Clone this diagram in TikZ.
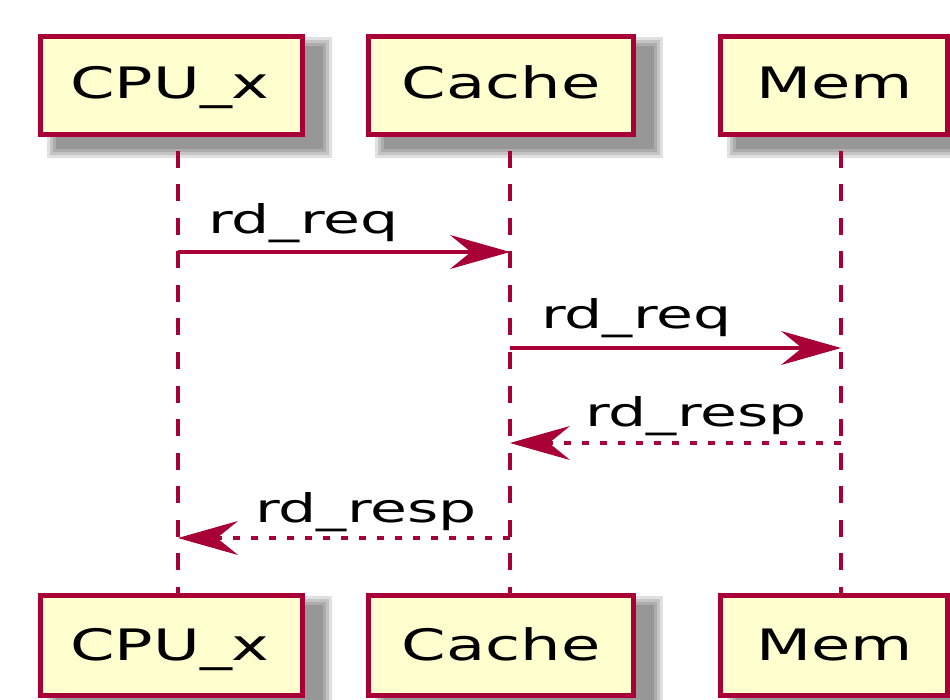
\documentclass[tikz,border=0pt]{standalone}
\usepackage{fontspec}
\setmainfont{DejaVu Sans}
\usetikzlibrary{arrows.meta}
\definecolor{umlred}{HTML}{A80036}
\definecolor{umlfill}{HTML}{FEFECE}
\newcommand{\ptext}[1]{\scalebox{1.475}[1]{\fontsize{43.3}{50}\selectfont #1}}
\newcommand{\mtext}[1]{\scalebox{1.52}[1]{\fontsize{39.5}{46}\selectfont #1}}
\begin{document}
\begin{tikzpicture}[x=1pt,y=-1pt,
  partbox/.style={draw=umlred,fill=umlfill,line width=5pt,inner sep=0pt,minimum height=98pt},
  partlbl/.style={anchor=base,inner sep=0pt,text=black},
  msglbl/.style={anchor=base west,inner sep=0pt,text=black},
  lifeline/.style={draw=umlred,line width=3.3pt,dash pattern=on 17pt off 16.5pt,dash phase=19.5pt},
  msgtip/.style={-{Stealth[length=60pt,width=34pt,inset=21pt,line width=1pt]}},
  msg/.style={draw=umlred,fill=none,line width=3.3pt,msgtip},
  reply/.style={msg,dash pattern=on 7pt off 11pt},
  shade/.style={fill=black,fill opacity=0.12,draw=none}]
\useasboundingbox (0,0) rectangle (950,700);
\fill[white] (0,0) rectangle (950,700);

% lifeline x positions
\coordinate (cpuL) at (178,0);
\coordinate (cacheL) at (510,0);
\coordinate (memL) at (841,0);

% shadows
\foreach \cx/\w/\cy/\h in {171.5/262/85.5/98, 501/265/85.5/98, 833.5/227/85.5/98,
                            171.5/262/645.5/100, 501/265/645.5/100, 833.5/227/645.5/100}{
  \foreach \r in {0,3,6,9}{
    \fill[shade] ({\cx-\w/2-2.5+18-\r},{\cy-\h/2-2.5+12-\r}) rectangle ({\cx+\w/2+2.5+18+\r},{\cy+\h/2+2.5+12+\r});
  }
}

% top participants
\node[partbox,minimum width=262pt] (cpuT) at (171.5,85.5) {};
\node[partbox,minimum width=265pt] (cacheT) at (501,85.5) {};
\node[partbox,minimum width=227pt] (memT) at (833.5,85.5) {};
% bottom participants
\node[partbox,minimum width=262pt,minimum height=100pt] (cpuB) at (171.5,645.5) {};
\node[partbox,minimum width=265pt,minimum height=100pt] (cacheB) at (501,645.5) {};
\node[partbox,minimum width=227pt,minimum height=100pt] (memB) at (833.5,645.5) {};

% lifelines
\draw[lifeline] (cpuL |- cpuT.south) -- (cpuL |- cpuB.north);
\draw[lifeline] (cacheL |- cacheT.south) -- (cacheL |- cacheB.north);
\draw[lifeline] (memL |- memT.south) -- (memL |- memB.north);

% redraw boxes above lifelines
\node[partbox,minimum width=262pt] at (cpuT) {};
\node[partbox,minimum width=265pt] at (cacheT) {};
\node[partbox,minimum width=227pt] at (memT) {};
\node[partbox,minimum width=262pt,minimum height=100pt] at (cpuB) {};
\node[partbox,minimum width=265pt,minimum height=100pt] at (cacheB) {};
\node[partbox,minimum width=227pt,minimum height=100pt] at (memB) {};

% participant labels
\node[partlbl] (cpuTl) at (170,99) {\ptext{CPU\_x}};
\node[partlbl] (cacheTl) at (501,99) {\ptext{Cache}};
\node[partlbl] (memTl) at (834.5,99) {\ptext{Mem}};
\node[partlbl] (cpuBl) at (170,660) {\ptext{CPU\_x}};
\node[partlbl] (cacheBl) at (501,660) {\ptext{Cache}};
\node[partlbl] (memBl) at (834.5,660) {\ptext{Mem}};

% message end points on lifelines
\coordinate (m1a) at (cpuL |- 0,252);
\coordinate (m1b) at (cacheL |- 0,252);
\coordinate (m2a) at (cacheL |- 0,348);
\coordinate (m2b) at (memL |- 0,348);
\coordinate (m3a) at (memL |- 0,443);
\coordinate (m3b) at (cacheL |- 0,443);
\coordinate (m4a) at (cacheL |- 0,538);
\coordinate (m4b) at (cpuL |- 0,538);

\draw[msg] (m1a) -- (m1b);
\draw[msg] (m2a) -- (m2b);
\draw[reply] (m3a) -- (m3b);
\draw[reply] (m4a) -- (m4b);

\node[msglbl] (l1) at (208,234) {\mtext{rd\_req}};
\node[msglbl] (l2) at (541,329) {\mtext{rd\_req}};
\node[msglbl] (l3) at (585,426) {\mtext{rd\_resp}};
\node[msglbl] (l4) at (255,522) {\mtext{rd\_resp}};
\end{tikzpicture}
\end{document}
